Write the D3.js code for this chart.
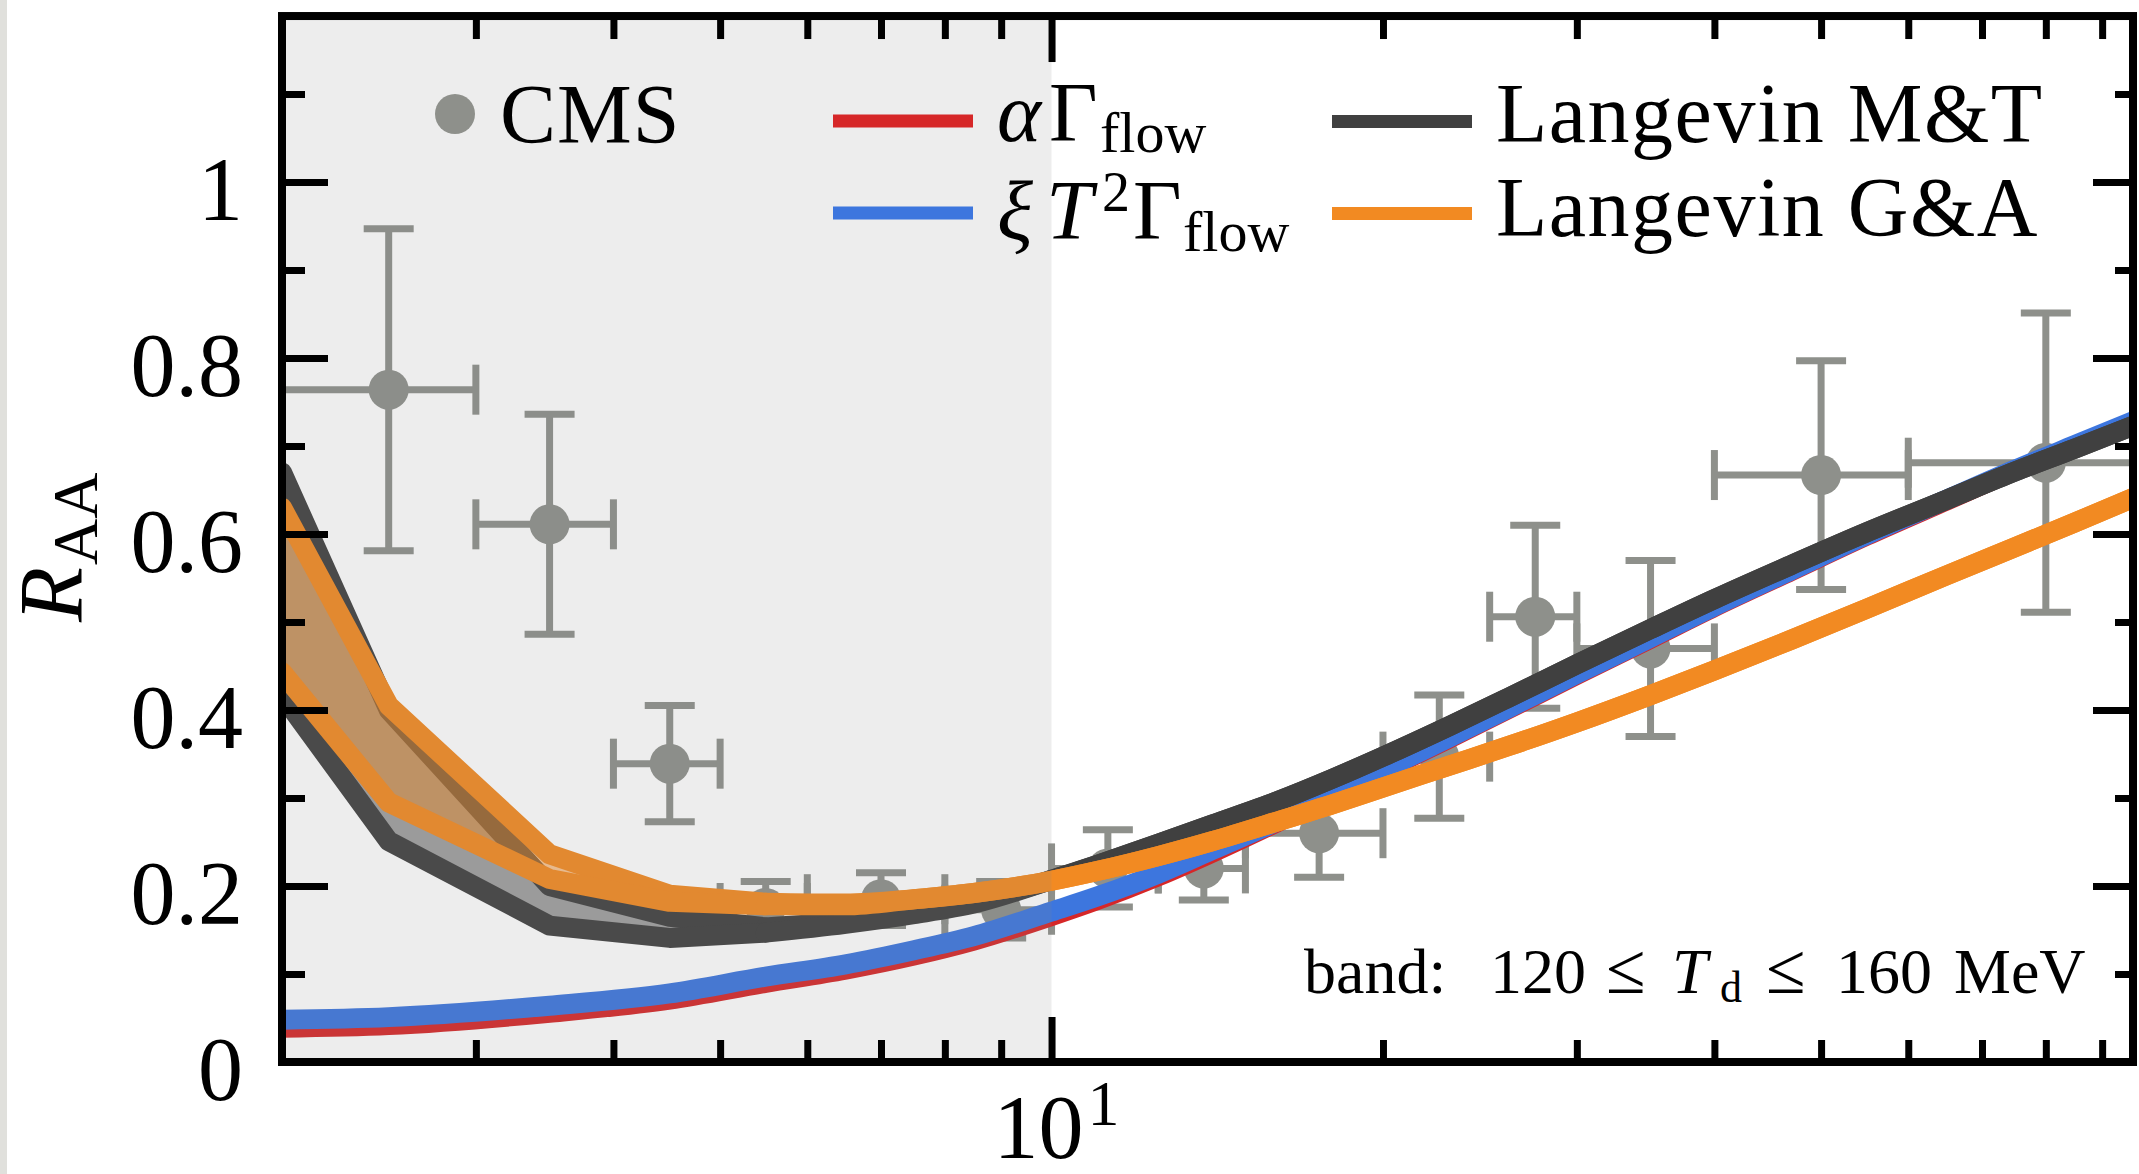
<!DOCTYPE html>
<html><head><meta charset="utf-8">
<script src="https://cdn.jsdelivr.net/npm/d3@7"></script>
<style>
html,body{margin:0;padding:0;background:#fff;overflow:hidden}
svg{display:block}
text{font-family:"Liberation Serif","Times New Roman",serif;fill:#000}
</style>
</head><body>
<svg id="c" width="2139" height="1174"></svg>
<script>
// ---------------- data ----------------
const pT = [2, 2.5, 3.5, 4.5, 5.5, 6.5, 7.5, 8.5, 10, 11, 12.5, 14, 16, 18, 20, 23, 26, 30, 35, 40, 47, 55, 65, 75, 85, 96];

const alphaGammaFlow = [0.039, 0.042, 0.056, 0.071, 0.090, 0.105, 0.121, 0.138, 0.166, 0.184, 0.211, 0.238, 0.272, 0.303, 0.331, 0.368, 0.401, 0.440, 0.481, 0.517, 0.558, 0.598, 0.638, 0.672, 0.700, 0.727];
const xiT2GammaFlow  = [0.048, 0.051, 0.064, 0.078, 0.097, 0.111, 0.127, 0.143, 0.171, 0.188, 0.214, 0.241, 0.273, 0.304, 0.332, 0.369, 0.402, 0.441, 0.482, 0.518, 0.559, 0.599, 0.639, 0.673, 0.701, 0.728];

const langevinMT_upper = [0.670, 0.400, 0.200, 0.165, 0.153, 0.160, 0.170, 0.182, 0.207, 0.224, 0.248, 0.270, 0.296, 0.322, 0.347, 0.382, 0.414, 0.452, 0.492, 0.526, 0.565, 0.602, 0.639, 0.671, 0.697, 0.723];
const langevinMT_lower = [0.417, 0.251, 0.155, 0.141, 0.147, 0.157, 0.168, 0.180, 0.207, 0.224, 0.248, 0.270, 0.296, 0.322, 0.347, 0.382, 0.414, 0.452, 0.492, 0.526, 0.565, 0.602, 0.639, 0.671, 0.697, 0.723];

const langevinGA_upper = [0.630, 0.405, 0.236, 0.190, 0.181, 0.180, 0.185, 0.192, 0.206, 0.217, 0.234, 0.251, 0.273, 0.293, 0.312, 0.337, 0.359, 0.386, 0.417, 0.445, 0.480, 0.515, 0.553, 0.585, 0.613, 0.641];
const langevinGA_lower = [0.443, 0.295, 0.208, 0.182, 0.178, 0.178, 0.185, 0.192, 0.206, 0.217, 0.234, 0.251, 0.273, 0.293, 0.312, 0.337, 0.359, 0.386, 0.417, 0.445, 0.480, 0.515, 0.553, 0.585, 0.613, 0.641];

const cmsPt    = [2.5, 3.5, 4.5, 5.5, 7, 9, 11.25, 13.75, 17.5, 22.5, 27.5, 35, 50, 80];
const cmsPtLo  = [2, 3, 4, 5, 6, 8, 10, 12.5, 15, 20, 25, 30, 40, 60];
const cmsPtHi  = [3, 4, 5, 6, 8, 10, 12.5, 15, 20, 25, 30, 40, 60, 100];
const cmsRaa   = [0.764, 0.611, 0.339, 0.175, 0.185, 0.173, 0.220, 0.220, 0.260, 0.347, 0.506, 0.470, 0.667, 0.681];
const cmsErr   = [0.183, 0.125, 0.066, 0.030, 0.030, 0.032, 0.044, 0.036, 0.050, 0.070, 0.104, 0.100, 0.130, 0.170];

const yMajorTicks = [0, 0.2, 0.4, 0.6, 0.8, 1];
const yTickLabels = ["0", "0.2", "0.4", "0.6", "0.8", "1"];
const yMinorTicks = [0.1, 0.3, 0.5, 0.7, 0.9, 1.1];
const xMajorTicks = [10];
const xMinorTicks = [3, 4, 5, 6, 7, 8, 9, 20, 30, 40, 50, 60, 70, 80, 90];
const shadeRange = [2, 10];

// ---------------- setup ----------------
const W = 2139, H = 1174;
const L = 282, R = 2133, B = 1062;
const yMax = 1.1886;
const x = d3.scaleLog().domain([2, 96]).range([L, R]);
const y = d3.scaleLinear().domain([0, yMax]).range([B, B - 880 * yMax]);

const C = {red: "#d62728", blue: "#3d76de", dark: "#404040", orange: "#f28a22", gray: "#8e908b"};

const svg = d3.select("#c");
svg.append("rect").attr("width", W).attr("height", H).attr("fill", "#fff");
svg.append("rect").attr("x", 0).attr("y", 0).attr("width", 7).attr("height", H).attr("fill", "#e0e0dc");

svg.append("defs").append("clipPath").attr("id", "clip")
  .append("rect").attr("x", L).attr("y", y(yMax)).attr("width", R - L).attr("height", B - y(yMax));

const plot = svg.append("g").attr("clip-path", "url(#clip)");

// CMS data points
const cms = cmsPt.map((p, i) => ({p, lo: cmsPtLo[i], hi: cmsPtHi[i], v: cmsRaa[i], e: cmsErr[i]}));
const gp = plot.append("g").attr("stroke", C.gray).attr("fill", C.gray).attr("stroke-width", 7);
const cap = 25;
cms.forEach(d => {
  const g = gp.append("g");
  g.append("line").attr("x1", x(d.lo)).attr("x2", x(d.hi)).attr("y1", y(d.v)).attr("y2", y(d.v));
  g.append("line").attr("x1", x(d.p)).attr("x2", x(d.p)).attr("y1", y(d.v - d.e)).attr("y2", y(d.v + d.e));
  g.append("line").attr("x1", x(d.p) - cap).attr("x2", x(d.p) + cap).attr("y1", y(d.v - d.e)).attr("y2", y(d.v - d.e));
  g.append("line").attr("x1", x(d.p) - cap).attr("x2", x(d.p) + cap).attr("y1", y(d.v + d.e)).attr("y2", y(d.v + d.e));
  g.append("line").attr("x1", x(d.lo)).attr("x2", x(d.lo)).attr("y1", y(d.v) - cap).attr("y2", y(d.v) + cap);
  g.append("line").attr("x1", x(d.hi)).attr("x2", x(d.hi)).attr("y1", y(d.v) - cap).attr("y2", y(d.v) + cap);
  g.append("circle").attr("cx", x(d.p)).attr("cy", y(d.v)).attr("r", 20).attr("stroke", "none");
});

const LW = 20;
const lineSmooth = d3.line().x(d => x(d[0])).y(d => y(d[1])).curve(d3.curveMonotoneX);
const lineLin = d3.line().x(d => x(d[0])).y(d => y(d[1])).curve(d3.curveLinear);
const zip = arr => pT.map((p, i) => [p, arr[i]]);

function drawCurve(arr, color, mixed) {
  const pts = zip(arr);
  if (!mixed) {
    plot.append("path").attr("d", lineSmooth(pts)).attr("fill", "none")
      .attr("stroke", color).attr("stroke-width", LW).attr("stroke-linejoin", "round");
    return;
  }
  const split = 4; // straight segments at the lowest pT, smooth beyond
  const g = plot.append("g").attr("fill", "none").attr("stroke", color).attr("stroke-width", LW)
    .attr("stroke-linejoin", "round").attr("stroke-linecap", "round");
  g.append("path").attr("d", lineLin(pts.slice(0, split + 1)));
  g.append("path").attr("d", lineSmooth(pts.slice(split)));
}

drawCurve(alphaGammaFlow, C.red, false);
drawCurve(xiT2GammaFlow, C.blue, false);

const band = (up, lo) => d3.area().x((d, i) => x(pT[i])).y0((d, i) => y(lo[i])).y1((d, i) => y(up[i])).curve(d3.curveLinear)(pT);

// Langevin M&T
plot.append("path").attr("d", band(langevinMT_upper, langevinMT_lower)).attr("fill", C.dark).attr("fill-opacity", 0.5);
drawCurve(langevinMT_upper, C.dark, true);
drawCurve(langevinMT_lower, C.dark, true);
// Langevin G&A
plot.append("path").attr("d", band(langevinGA_upper, langevinGA_lower)).attr("fill", C.orange).attr("fill-opacity", 0.5);
drawCurve(langevinGA_upper, C.orange, true);
drawCurve(langevinGA_lower, C.orange, true);

// shaded region
plot.append("rect").attr("x", x(shadeRange[0])).attr("y", y(yMax)).attr("width", x(shadeRange[1]) - x(shadeRange[0]))
  .attr("height", B - y(yMax)).attr("fill", "#888").attr("fill-opacity", 0.15);

// ---------------- axes ----------------
function styleAxis(g) {
  g.select(".domain").remove();
  g.selectAll(".tick line").attr("stroke", "#000").attr("stroke-width", 7);
  g.selectAll(".tick text").remove();
}
const fmt = () => "";
svg.append("g").attr("transform", `translate(0,${B})`).call(d3.axisBottom(x).tickValues(xMinorTicks).tickSize(-22).tickSizeOuter(0).tickFormat(fmt)).call(styleAxis);
svg.append("g").attr("transform", `translate(0,${B})`).call(d3.axisBottom(x).tickValues(xMajorTicks).tickSize(-45).tickSizeOuter(0).tickFormat(fmt)).call(styleAxis);
svg.append("g").attr("transform", `translate(0,${y(yMax)})`).call(d3.axisTop(x).tickValues(xMinorTicks).tickSize(-23).tickSizeOuter(0).tickFormat(fmt)).call(styleAxis);
svg.append("g").attr("transform", `translate(0,${y(yMax)})`).call(d3.axisTop(x).tickValues(xMajorTicks).tickSize(-46).tickSizeOuter(0).tickFormat(fmt)).call(styleAxis);
svg.append("g").attr("transform", `translate(${L},0)`).call(d3.axisLeft(y).tickValues(yMinorTicks).tickSize(-23).tickSizeOuter(0).tickFormat(fmt)).call(styleAxis);
svg.append("g").attr("transform", `translate(${L},0)`).call(d3.axisLeft(y).tickValues(yMajorTicks).tickSize(-46).tickSizeOuter(0).tickFormat(fmt)).call(styleAxis);
svg.append("g").attr("transform", `translate(${R},0)`).call(d3.axisRight(y).tickValues(yMinorTicks).tickSize(-18).tickSizeOuter(0).tickFormat(fmt)).call(styleAxis);
svg.append("g").attr("transform", `translate(${R},0)`).call(d3.axisRight(y).tickValues(yMajorTicks).tickSize(-40).tickSizeOuter(0).tickFormat(fmt)).call(styleAxis);

svg.append("rect").attr("x", L).attr("y", y(yMax)).attr("width", R - L).attr("height", B - y(yMax))
  .attr("fill", "none").attr("stroke", "#000").attr("stroke-width", 8);

// y tick labels
yMajorTicks.forEach((v, i) => {
  svg.append("text").attr("x", 243).attr("y", y(v) + 38).attr("text-anchor", "end")
    .attr("font-size", 90).text(yTickLabels[i]);
});
// x tick label 10^1
const xl = svg.append("text").attr("x", x(10) - 58).attr("y", 1158).attr("font-size", 90);
xl.append("tspan").text("10");
xl.append("tspan").attr("font-size", 64).attr("dx", 4).attr("dy", -33).text("1");

// y axis label
const yl = svg.append("text").attr("transform", "translate(82,622) rotate(-90)").attr("font-size", 90);
yl.append("tspan").attr("font-style", "italic").text("R");
yl.append("tspan").attr("font-size", 64).attr("dy", 15).attr("dx", 2).text("AA");

// ---------------- legend ----------------
const LF = 84;
svg.append("circle").attr("cx", 455).attr("cy", 114).attr("r", 20).attr("fill", C.gray);
svg.append("text").attr("x", 500).attr("y", 143).attr("font-size", LF).attr("letter-spacing", 1).text("CMS");

svg.append("line").attr("x1", 833).attr("x2", 973).attr("y1", 121).attr("y2", 121).attr("stroke", C.red).attr("stroke-width", 13);
svg.append("line").attr("x1", 833).attr("x2", 973).attr("y1", 213).attr("y2", 213).attr("stroke", C.blue).attr("stroke-width", 13);
const t1 = svg.append("text").attr("y", 141).attr("font-size", LF);
t1.append("tspan").attr("x", 997).attr("font-style", "italic").text("α");
t1.append("tspan").attr("x", 1049).text("Γ");
t1.append("tspan").attr("x", 1100).attr("dy", 11).attr("font-size", 58).text("flow");
const t2 = svg.append("text").attr("y", 239).attr("font-size", LF);
t2.append("tspan").attr("x", 997).attr("font-style", "italic").text("ξ");
t2.append("tspan").attr("x", 1046).attr("font-style", "italic").text("T");
t2.append("tspan").attr("x", 1102).attr("dy", -28).attr("font-size", 56).text("2");
t2.append("tspan").attr("x", 1133).attr("dy", 28).text("Γ");
t2.append("tspan").attr("x", 1183).attr("dy", 12).attr("font-size", 58).text("flow");

svg.append("line").attr("x1", 1332).attr("x2", 1472).attr("y1", 121.5).attr("y2", 121.5).attr("stroke", C.dark).attr("stroke-width", 13);
svg.append("line").attr("x1", 1332).attr("x2", 1472).attr("y1", 213.5).attr("y2", 213.5).attr("stroke", C.orange).attr("stroke-width", 13);
svg.append("text").attr("x", 1496).attr("y", 142).attr("font-size", LF).attr("letter-spacing", 1.5).text("Langevin M&T");
svg.append("text").attr("x", 1496).attr("y", 236).attr("font-size", LF).attr("letter-spacing", 1.5).text("Langevin G&A");

// band annotation
const bt = svg.append("text").attr("y", 993).attr("font-size", 64);
bt.append("tspan").attr("x", 1304).text("band:");
bt.append("tspan").attr("x", 1490).text("120");
bt.append("tspan").attr("x", 1606).attr("font-size", 72).text("≤");
bt.append("tspan").attr("x", 1672).attr("font-style", "italic").text("T");
bt.append("tspan").attr("x", 1720).attr("dy", 9).attr("font-size", 44).text("d");
bt.append("tspan").attr("x", 1766).attr("dy", -9).attr("font-size", 72).text("≤");
bt.append("tspan").attr("x", 1836).text("160");
bt.append("tspan").attr("x", 1954).text("MeV");
</script>
</body></html>
